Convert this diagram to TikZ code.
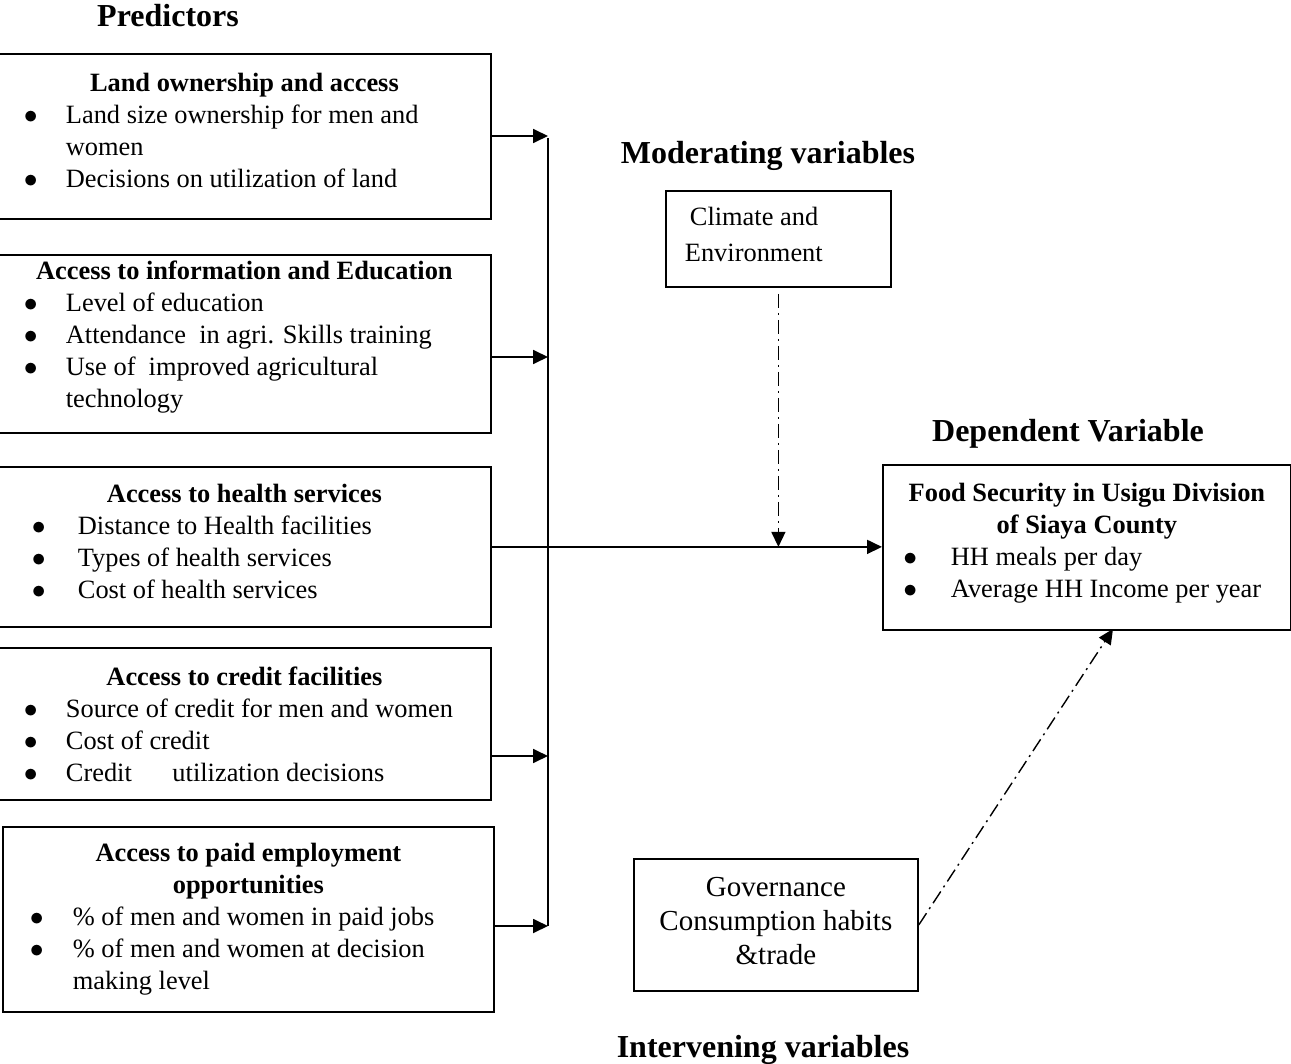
\documentclass[tikz,border=0pt]{standalone}
\usepackage{fontspec}
\setmainfont{Liberation Serif}
\usetikzlibrary{arrows.meta}

% box body: width, height, content at the top
\newcommand\vbody[3]{\parbox[c][#2][t]{#1}{#3}}
% centred bold title, first line raised by a strut
\newcommand\btitle[2]{{\centering\bfseries\rule{0pt}{#1}#2\par}}
% bullet line: bullet indent, text indent, text
\newcommand\bitem[3]{\par\hangindent=#2\hangafter=1\noindent\hspace*{#1}\makebox[\dimexpr#2-#1\relax][l]{\scalebox{1.15}{$\bullet$}}#3\par}

\begin{document}
\begin{tikzpicture}[x=0.5pt,y=-0.5pt,
	every node/.style={inner sep=0pt},
	varbox/.style={draw,line width=0.9pt,anchor=north west,font=\fontsize{13.2}{16}\selectfont},
	heading/.style={anchor=base,font=\fontsize{16}{19}\selectfont\bfseries},
	feed/.style={line width=0.9pt,-{Triangle[length=7.5pt,width=7pt]}},
	modline/.style={line width=0.7pt,dash pattern=on 7pt off 2.5pt on 1pt off 2.5pt,-{Triangle[length=7.5pt,width=7pt]}}]
\useasboundingbox (0,0) rectangle (1291,1064);

% headings
\node[heading] (pred) at (168,27) {Predictors};
\node[heading] (moder) at (768,164) {Moderating variables};
\node[heading] (depen) at (1068,441) {Dependent Variable};
\node[heading] (inter) at (763,1057) {Intervening variables};

% predictors
\node[varbox] (land) at (-3,53) {\vbody{246.5pt}{82.5pt}{%
	\btitle{19pt}{Land ownership and access}
	\bitem{13pt}{34pt}{Land size ownership for men and\\women}
	\bitem{13pt}{34pt}{Decisions on utilization of land}}};
\node[varbox] (info) at (-3,254) {\vbody{246.5pt}{89pt}{%
	\btitle{12.5pt}{Access to information and Education}
	\bitem{13pt}{34pt}{Level of education}
	\bitem{13pt}{34pt}{Attendance\ \ in agri. Skills training}
	\bitem{13pt}{34pt}{Use of\ \ improved agricultural\\technology}}};
\node[varbox] (health) at (-3,466) {\vbody{246.5pt}{80pt}{%
	\btitle{18pt}{Access to health services}
	\bitem{17pt}{40pt}{Distance to Health facilities}
	\bitem{17pt}{40pt}{Types of health services}
	\bitem{17pt}{40pt}{Cost of health services}}};
\node[varbox] (credit) at (-3,647) {\vbody{246.5pt}{76pt}{%
	\btitle{19pt}{Access to credit facilities}
	\bitem{13pt}{34pt}{Source of credit for men and women}
	\bitem{13pt}{34pt}{Cost of credit}
	\bitem{13pt}{34pt}{Credit\hspace{17pt} utilization decisions}}};
\node[varbox] (employ) at (2,826) {\vbody{245.5pt}{92.5pt}{%
	\btitle{17.5pt}{Access to paid employment\\opportunities}
	\bitem{13.5pt}{35pt}{\% of men and women in paid jobs}
	\bitem{13.5pt}{35pt}{\% of men and women at decision\\making level}}};

% dependent
\node[varbox] (food) at (882,464) {\vbody{204pt}{82.5pt}{%
	\btitle{18.5pt}{Food Security in Usigu Division\\of Siaya County}
	\bitem{10.2pt}{34pt}{HH meals per day}
	\bitem{10.2pt}{34pt}{Average HH Income per year}}};

% moderating and intervening
\node[varbox] (climate) at (665,190) {\vbody{112.5pt}{48pt}{%
	\hspace*{12pt}\rule{0pt}{17.5pt}Climate and\\[2pt]
	\hspace*{9.5pt}Environment}};
\node[varbox,font=\fontsize{14.5}{17}\selectfont] (gov) at (633,858) {\vbody{142pt}{66pt}{%
	{\centering\rule{0pt}{19pt}Governance\\Consumption habits\\\&trade\par}}};

% connectors
\coordinate (bustop) at (548,138);
\coordinate (j1) at (548,136);
\coordinate (j2) at (548,357);
\coordinate (j4) at (548,756);
\coordinate (j5) at (548,926);
\draw[line width=0.9pt] (bustop) -- (j5);
\draw[feed] (land.east |- j1) -- (j1);
\draw[feed] (info.east |- j2) -- (j2);
\draw[feed] (credit.east |- j4) -- (j4);
\draw[feed] (employ.east |- j5) -- (j5);
\draw[feed] (health.east) -- (health.east -| food.west);

\coordinate (cross) at (climate.south |- health.east);
\draw[modline,shorten <=3pt] (climate.south) -- (cross);
\coordinate (gtip) at (1113,629);
\draw[modline] (gov.east) -- (gtip);
\end{tikzpicture}
\end{document}
